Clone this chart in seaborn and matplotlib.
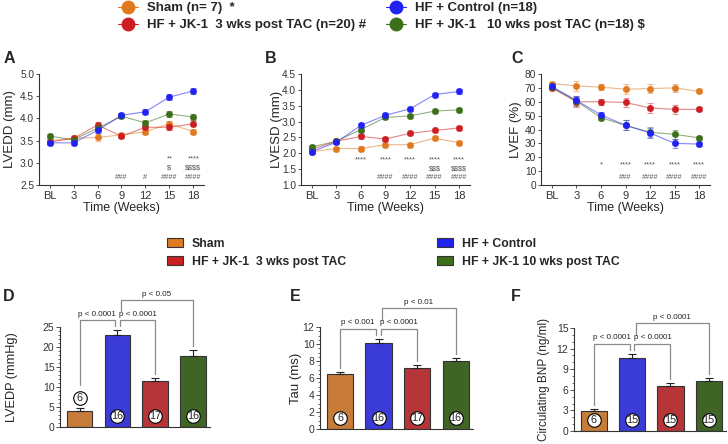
import numpy as np
import pandas as pd
import matplotlib
matplotlib.use("Agg")
import matplotlib.pyplot as plt
import seaborn as sns
from matplotlib.lines import Line2D
from matplotlib.patches import Patch
from matplotlib.ticker import MultipleLocator

# группы и цвета
groups = ["Sham", "HF + Control", "HF + JK-1 3 wks", "HF + JK-1 10 wks"]
colors = ["#DF7A22", "#2121F2", "#CB1F24", "#3D6F1A"]
weeks = ["BL", "3", "6", "9", "12", "15", "18"]

# эхо по времени (mean, sem)
lvedd_mean = {
    "Sham": [3.50, 3.55, 3.57, 3.63, 3.70, 3.88, 3.70],
    "HF + Control": [3.45, 3.45, 3.73, 4.07, 4.15, 4.48, 4.62],
    "HF + JK-1 3 wks": [3.47, 3.55, 3.85, 3.60, 3.80, 3.80, 3.88],
    "HF + JK-1 10 wks": [3.60, 3.52, 3.78, 4.05, 3.90, 4.10, 4.03],
}
lvedd_sem = [0.05, 0.04, 0.07, 0.05, 0.06, 0.06, 0.06]

lvesd_mean = {
    "Sham": [2.05, 2.15, 2.15, 2.27, 2.27, 2.48, 2.33],
    "HF + Control": [2.05, 2.35, 2.88, 3.20, 3.40, 3.85, 3.95],
    "HF + JK-1 3 wks": [2.12, 2.38, 2.53, 2.45, 2.63, 2.72, 2.80],
    "HF + JK-1 10 wks": [2.20, 2.38, 2.75, 3.13, 3.18, 3.33, 3.37],
}
lvesd_sem = [0.05, 0.05, 0.07, 0.06, 0.06, 0.06, 0.07]

lvef_mean = {
    "Sham": [73.0, 71.5, 70.5, 69.0, 69.5, 70.0, 67.5],
    "HF + Control": [71.0, 61.0, 50.5, 43.0, 37.5, 30.0, 29.5],
    "HF + JK-1 3 wks": [70.0, 60.0, 60.0, 59.5, 55.5, 54.5, 54.5],
    "HF + JK-1 10 wks": [70.5, 60.5, 48.5, 43.0, 38.0, 36.5, 34.0],
}
lvef_sem = [1.5, 3.5, 2.0, 3.5, 3.5, 3.0, 1.5]

stats_a = [["", "", "", "", "", "**", "****"],
           ["", "", "", "", "", "$", "$$$$"],
           ["", "", "", "###", "#", "####", "####"]]
stats_b = [["", "", "****", "****", "****", "****", "****"],
           ["", "", "", "", "", "$$$", "$$$$"],
           ["", "", "", "####", "####", "####", "####"]]
stats_c = [["", "", "*", "****", "****", "****", "****"],
           ["", "", "", "###", "####", "####", "####"]]

# конечные точки
lvedp_mean = [4.0, 23.0, 11.4, 17.8]
lvedp_sem = [0.8, 1.2, 0.9, 1.4]
lvedp_n = [6, 16, 17, 16]
lvedp_p = ["p < 0.0001", "p < 0.0001", "p < 0.05"]

tau_mean = [6.5, 10.1, 7.2, 8.0]
tau_sem = [0.25, 0.5, 0.35, 0.35]
tau_n = [6, 16, 17, 16]
tau_p = ["p < 0.001", "p < 0.0001", "p < 0.01"]

bnp_mean = [2.9, 10.7, 6.6, 7.3]
bnp_sem = [0.3, 0.5, 0.4, 0.45]
bnp_n = [6, 15, 15, 15]
bnp_p = ["p < 0.0001", "p < 0.0001", "p < 0.0001"]

top_labels = ["Sham (n= 7)  *", "HF + JK-1  3 wks post TAC (n=20) #",
              "HF + Control (n=18)", "HF + JK-1   10 wks post TAC (n=18) $"]
mid_labels = ["Sham", "HF + JK-1  3 wks post TAC", "HF + Control", "HF + JK-1 10 wks post TAC"]

sns.set_theme(style="ticks")
plt.rcParams["font.family"] = ["Liberation Sans", "DejaVu Sans"]
plt.rcParams["text.parse_math"] = False
plt.rcParams["axes.edgecolor"] = "#333333"
plt.rcParams["axes.linewidth"] = 0.8
plt.rcParams["xtick.color"] = "#333333"
plt.rcParams["ytick.color"] = "#333333"

W, H = 728, 444
fig = plt.figure(figsize=(W / 100, H / 100), dpi=100)


def px_axes(x0, x1, y0, y1):
    return fig.add_axes([x0 / W, 1 - y1 / H, (x1 - x0) / W, (y1 - y0) / H])


def line_panel(ax, means, sem, ylim, ystep, ylabel, stats, rows_y, label_x, fmt):
    x = np.arange(len(weeks))
    for g in ["Sham", "HF + JK-1 3 wks", "HF + JK-1 10 wks", "HF + Control"]:
        c = colors[groups.index(g)]
        df = pd.DataFrame({"week": x, "val": means[g]})
        ax.errorbar(x, means[g], yerr=sem, fmt="none", ecolor=c, alpha=0.45,
                    capsize=2, elinewidth=0.8, capthick=0.8)
        sns.lineplot(data=df, x="week", y="val", ax=ax, color=c, lw=0.8, alpha=0.55)
        sns.scatterplot(data=df, x="week", y="val", ax=ax, color=c, s=22,
                        edgecolor=c, linewidth=0.3, zorder=3)
    ax.set_xlim(-0.44, 6.44)
    ax.set_ylim(*ylim)
    ax.yaxis.set_major_locator(MultipleLocator(ystep))
    ax.yaxis.set_major_formatter(fmt)
    ax.set_xticks(x)
    ax.set_xticklabels(weeks)
    ax.tick_params(axis="x", labelsize=8, length=2.5, width=0.6, pad=1.5)
    ax.tick_params(axis="y", labelsize=7.3, length=2.5, width=0.6, pad=1)
    ax.set_xlabel("Time (Weeks)", fontsize=9, labelpad=1)
    ax.set_ylabel(ylabel, fontsize=9.5)
    ax.yaxis.set_label_coords(label_x, 0.5)
    for row, fy in zip(stats, rows_y):
        for xi, s in enumerate(row):
            if s:
                ax.text(xi, fy, s, transform=ax.get_xaxis_transform(), ha="center",
                        va="center", fontsize=5.3, color="#555555")
    sns.despine(ax=ax)


def bar_panel(ax, means, sem, ns, ptexts, ytop, ystep, yminor, ylabel, label_x, lsize):
    means = np.array(means)
    sem = np.array(sem)
    df = pd.DataFrame({"group": groups, "val": means})
    sns.barplot(data=df, x="group", y="val", hue="group", palette=colors, width=0.68,
                edgecolor="#333333", linewidth=0.8, errorbar=None, legend=False, ax=ax)
    ax.errorbar(np.arange(4), means, yerr=[np.zeros(4), sem], fmt="none",
                ecolor="#222222", capsize=3, elinewidth=0.8, capthick=0.8, zorder=4)
    ax.set_xlim(-0.52, 3.45)
    ax.set_ylim(0, ytop)
    ax.yaxis.set_major_locator(MultipleLocator(ystep))
    ax.yaxis.set_minor_locator(MultipleLocator(yminor))
    ax.set_xticks([])
    ax.set_xlabel("")
    ax.tick_params(axis="y", which="major", labelsize=7.5, length=3, width=0.6, pad=1)
    ax.tick_params(axis="y", which="minor", length=1.5, width=0.5)
    ax.set_ylabel(ylabel, fontsize=lsize)
    ax.yaxis.set_label_coords(label_x, 0.5)
    sns.despine(ax=ax)

    tops = means + sem
    # кружки с n
    base = []
    for i, n in enumerate(ns):
        if means[i] / ytop < 0.18:
            cy = tops[i] + 0.1 * ytop
            base.append(cy + 0.13 * ytop)
        else:
            cy = 0.11 * ytop
            base.append(tops[i] + 0.04 * ytop)
        ax.scatter([i], [cy], s=95, facecolor="white", edgecolor="black",
                   linewidth=0.8, zorder=5, clip_on=False)
        ax.text(i, cy, str(n), ha="center", va="center", fontsize=7.8, zorder=6)

    lev1 = tops[1] + 0.1 * ytop
    lev2 = lev1 + 0.2 * ytop
    brk = [(0, 1 - 0.06, lev1, base[0], base[1], ptexts[0]),
           (1 + 0.06, 2, lev1, base[1], base[2], ptexts[1]),
           (1 + 0.09, 3, lev2, lev1 + 0.09 * ytop, base[3], ptexts[2])]
    for x0, x1, lv, y0, y1, t in brk:
        ax.plot([x0, x0, x1, x1], [y0, lv, lv, y1], color="#8a8a8a", lw=0.9,
                clip_on=False, zorder=2)
        ax.text((x0 + x1) / 2, lv + 0.025 * ytop, t, ha="center", va="bottom",
                fontsize=5.8, color="#222222", clip_on=False)


ax_a = px_axes(39, 204, 74, 185)
ax_b = px_axes(301, 470, 74, 185)
ax_c = px_axes(541, 710, 74, 185)
line_panel(ax_a, lvedd_mean, lvedd_sem, (2.5, 5.0), 0.5, "LVEDD (mm)", stats_a,
           [0.232, 0.15, 0.068], -0.137, "{x:.1f}")
line_panel(ax_b, lvesd_mean, lvesd_sem, (1.0, 4.5), 0.5, "LVESD (mm)", stats_b,
           [0.225, 0.145, 0.066], -0.105, "{x:.1f}")
line_panel(ax_c, lvef_mean, lvef_sem, (0, 80), 10, "LVEF (%)", stats_c,
           [0.18, 0.066], -0.11, "{x:.0f}")

ax_d = px_axes(60, 210, 327, 427)
ax_e = px_axes(320, 473, 327, 429)
ax_f = px_axes(574, 726, 328, 431)
bar_panel(ax_d, lvedp_mean, lvedp_sem, lvedp_n, lvedp_p, 25, 5, 1, "LVEDP (mmHg)", -0.28, 9.2)
bar_panel(ax_e, tau_mean, tau_sem, tau_n, tau_p, 12, 2, 0.5, "Tau (ms)", -0.118, 9.5)
bar_panel(ax_f, bnp_mean, bnp_sem, bnp_n, bnp_p, 15, 3, 1, "Circulating BNP (ng/ml)", -0.158, 8.5)

# буквы панелей
for lt, x, y in [("A", 4, 63), ("B", 265, 63), ("C", 511, 63),
                 ("D", 3, 301), ("E", 290, 301), ("F", 511, 301)]:
    fig.text(x / W, 1 - y / H, lt, fontsize=11.5, fontweight="bold", va="baseline")

# верхняя легенда
top_order = [0, 2, 1, 3]
top_handles = [Line2D([], [], color=colors[i], marker="o", markersize=9, lw=0.8)
               for i in top_order]
fig.legend(top_handles, top_labels, ncol=2, loc="upper left",
           bbox_to_anchor=(118 / W, 1 - 2 / H), frameon=False, borderpad=0,
           borderaxespad=0, handlelength=1.5, handletextpad=0.7, columnspacing=1.5,
           labelspacing=0.36, prop={"size": 9.5, "weight": "bold"})

mid_handles = [Patch(facecolor=colors[i], edgecolor="#333333", linewidth=0.8)
               for i in top_order]
fig.legend(mid_handles, mid_labels, ncol=2, loc="upper left",
           bbox_to_anchor=(167 / W, 1 - 238 / H), frameon=False, borderpad=0,
           borderaxespad=0, handlelength=1.3, handletextpad=0.75, columnspacing=7.4,
           labelspacing=0.45, prop={"size": 8.8, "weight": "bold"})

fig.savefig("out.png", dpi=100)
